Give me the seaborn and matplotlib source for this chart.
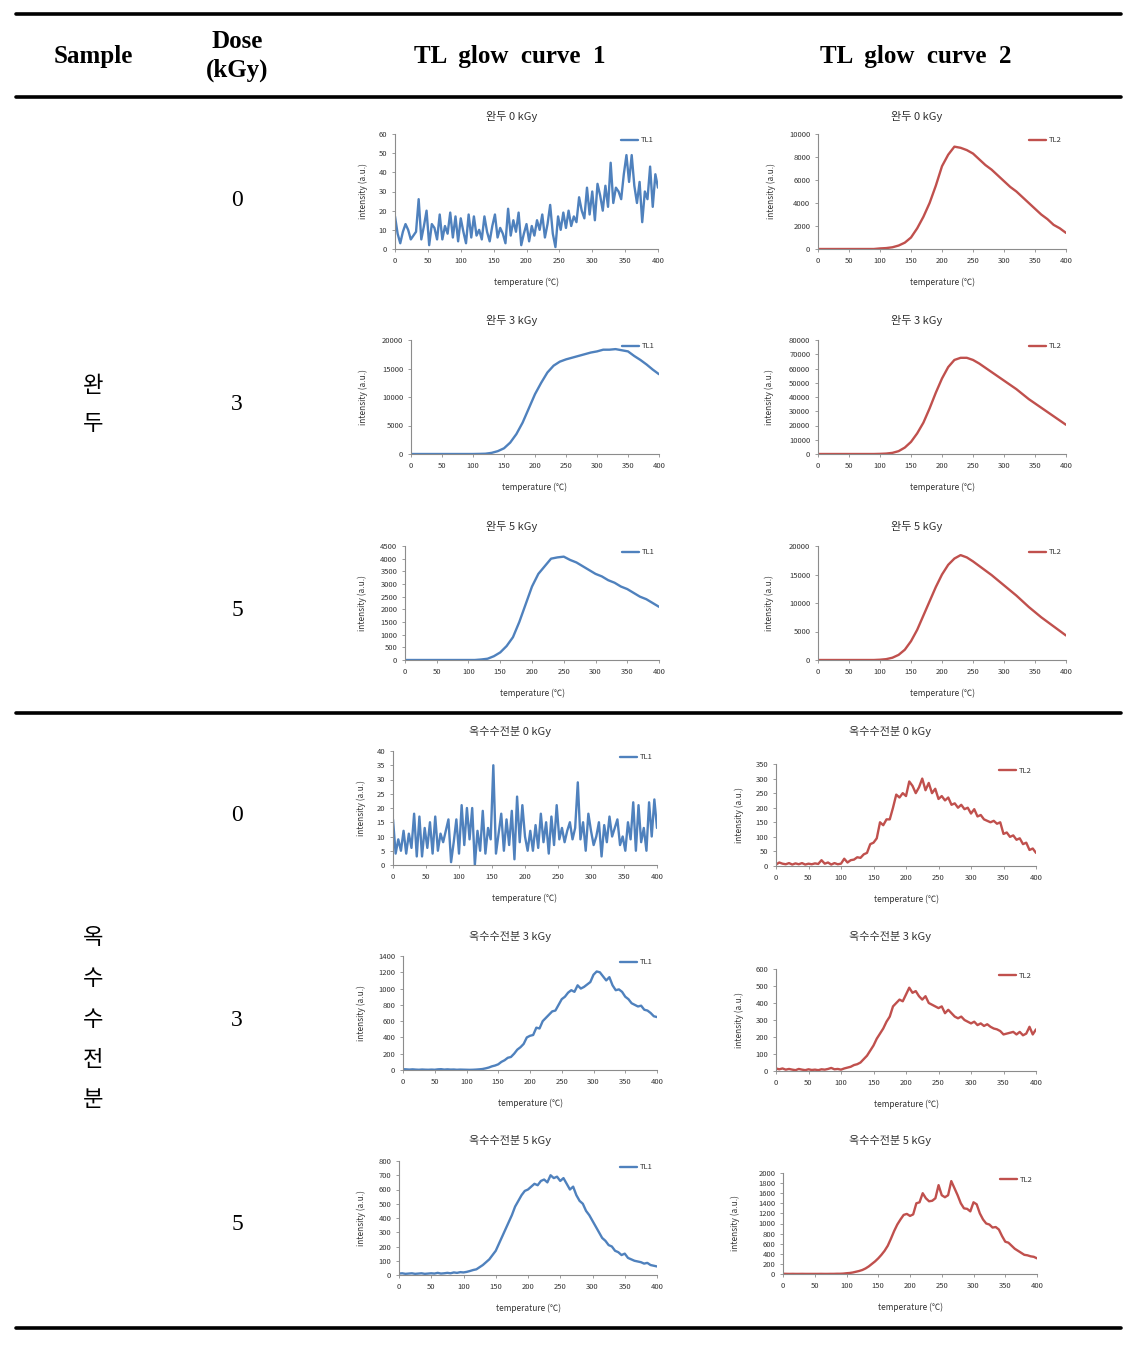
import matplotlib.pyplot as plt
import matplotlib.lines as mlines
import numpy as np
import seaborn as sns

W, H = 1133, 1351

# temperature grids (°C)
temp_4 = np.arange(0, 401, 4)
temp_5 = np.arange(0, 401, 5)
temp_10 = np.arange(0, 401, 10)

# 완두 0 kGy, TL1 (4 °C steps)
pea_0_tl1 = [
    17, 8, 3, 9, 13, 10, 5, 7, 9, 26,
    5, 12, 20, 2, 13, 11, 5, 18, 5, 12,
    8, 19, 6, 17, 4, 16, 9, 3, 18, 6,
    17, 7, 10, 5, 17, 9, 4, 12, 18, 6,
    11, 8, 3, 21, 7, 15, 9, 19, 2, 8,
    13, 4, 12, 7, 15, 10, 18, 6, 13, 23,
    8, 1, 17, 10, 19, 11, 20, 12, 17, 14,
    27, 20, 16, 32, 18, 30, 15, 34, 28, 20,
    33, 22, 45, 24, 32, 30, 26, 39, 49, 35,
    49, 33, 24, 35, 14, 30, 26, 43, 22, 39,
    32,
]
# 완두 0 kGy, TL2 (10 °C steps)
pea_0_tl2 = [
    0, 0, 0, 0, 0, 0, 0, 0, 0, 0,
    50, 80, 150, 300, 550, 1000, 1800, 2800, 4000, 5500,
    7200, 8200, 8900, 8800, 8600, 8300, 7800, 7300, 6900, 6400,
    5900, 5400, 5000, 4500, 4000, 3500, 3000, 2600, 2100, 1800,
    1400,
]
# 완두 3 kGy
pea_3_tl1 = [
    0, 0, 0, 0, 0, 0, 0, 0, 0, 0,
    0, 20, 50, 200, 500, 1000, 2000, 3500, 5500, 8000,
    10500, 12500, 14300, 15500, 16200, 16600, 16900, 17200, 17500, 17800,
    18000, 18300, 18300, 18400, 18200, 18000, 17200, 16500, 15700, 14800,
    14000,
]
pea_3_tl2 = [
    0, 0, 0, 0, 0, 0, 0, 0, 0, 0,
    100, 300, 800, 2000, 4500, 8500, 14500, 22000, 32000, 43000,
    53000, 61000, 66000, 67500, 67500, 66000, 63500, 60500, 57500, 54500,
    51500, 48500, 45500, 42000, 38500, 35500, 32500, 29500, 26500, 23500,
    20500,
]
# 완두 5 kGy
pea_5_tl1 = [
    0, 0, 0, 0, 0, 0, 0, 0, 0, 0,
    0, 0, 20, 50, 150, 300, 550, 900, 1500, 2200,
    2900, 3400, 3700, 4000, 4050, 4080, 3950, 3850, 3700, 3550,
    3400, 3300, 3150, 3050, 2900, 2800, 2650, 2500, 2400, 2250,
    2100,
]
pea_5_tl2 = [
    0, 0, 0, 0, 0, 0, 0, 0, 0, 0,
    50, 150, 400, 900, 1800, 3300, 5300, 7800, 10300, 12800,
    15000, 16700, 17800, 18400, 18000, 17300, 16500, 15700, 14900, 14000,
    13100, 12200, 11300, 10300, 9300, 8400, 7500, 6700, 5900, 5100,
    4300,
]
# 옥수수전분 0 kGy
corn_0_tl1 = [
    16, 4, 9, 5, 12, 4, 11, 6, 18, 3,
    17, 3, 13, 6, 15, 4, 17, 5, 11, 8,
    12, 16, 1, 8, 16, 4, 21, 7, 20, 9,
    20, 0, 12, 5, 19, 4, 13, 9, 35, 4,
    11, 18, 5, 16, 7, 19, 2, 24, 8, 21,
    10, 5, 12, 5, 14, 6, 18, 8, 15, 4,
    17, 7, 21, 9, 13, 8, 12, 15, 9, 13,
    29, 9, 15, 5, 18, 12, 7, 10, 15, 3,
    14, 8, 17, 10, 13, 16, 7, 10, 5, 15,
    9, 22, 5, 21, 8, 13, 5, 22, 10, 23,
    13,
]
corn_0_tl2 = [
    5, 12, 8, 6, 10, 5, 9, 6, 10, 5,
    8, 6, 9, 7, 20, 8, 12, 5, 10, 6,
    8, 25, 12, 20, 22, 30, 28, 40, 45, 75,
    80, 95, 150, 140, 160, 160, 200, 245, 235, 250,
    240, 290, 275, 250, 270, 300, 260, 285, 250, 265,
    230, 240, 225, 235, 210, 215, 200, 210, 195, 200,
    180, 195, 170, 175, 160, 155, 150, 155, 145, 150,
    110, 115, 100, 105, 90, 95, 75, 80, 55, 60,
    45,
]
# 옥수수전분 3 kGy
corn_3_tl1 = [
    10, 8, 5, 8, 5, 3, 6, 4, 3, 5,
    3, 8, 10, 5, 8, 5, 6, 3, 5, 4,
    3, 2, 3, 5, 8, 12, 20, 30, 45, 55,
    70, 100, 120, 150, 160, 200, 250, 280, 320, 400,
    420, 430, 520, 510, 600, 640, 680, 720, 730, 800,
    870, 900, 950, 980, 960, 1040, 1000, 1020, 1050, 1080,
    1170, 1210, 1200, 1150, 1100, 1140, 1040, 980, 990, 960,
    900, 870, 820, 800, 780, 790, 740, 730, 700, 660,
    650,
]
corn_3_tl2 = [
    15, 10, 15, 8, 12, 8, 5, 12, 8, 5,
    10, 6, 8, 5, 10, 8, 12, 18, 10, 12,
    8, 15, 20, 25, 35, 40, 50, 70, 90, 120,
    150, 190, 220, 250, 290, 320, 380, 400, 420, 410,
    450, 490, 460, 470, 440, 420, 440, 400, 390, 380,
    370, 380, 340, 360, 340, 320, 310, 320, 300, 290,
    280, 290, 270, 280, 265, 275, 260, 250, 245, 235,
    215, 220, 225, 230, 215, 230, 210, 220, 260, 215,
    245,
]
# 옥수수전분 5 kGy
corn_5_tl1 = [
    10, 12, 8, 10, 12, 8, 10, 12, 8, 10,
    12, 10, 15, 10, 12, 15, 12, 18, 15, 20,
    18, 22, 28, 35, 40, 55, 70, 90, 110, 140,
    170, 220, 270, 320, 370, 420, 480, 520, 560, 590,
    600, 620, 640, 630, 660, 670, 650, 700, 680, 690,
    660, 680, 640, 600, 620, 560, 520, 500, 450, 420,
    380, 340, 300, 260, 240, 210, 200, 170, 160, 140,
    150, 120, 110, 100, 95, 90, 80, 85, 70, 65,
    60,
]
corn_5_tl2 = [
    5, 3, 2, 3, 2, 2, 3, 2, 2, 2,
    2, 2, 3, 2, 2, 3, 3, 5, 5, 8,
    15, 20, 30, 45, 60, 80, 110, 150, 200, 250,
    310, 380, 460, 560, 700, 850, 980, 1080, 1170, 1190,
    1150, 1180, 1400, 1420, 1600, 1500, 1440, 1450, 1500, 1760,
    1560, 1520, 1560, 1840, 1700, 1560, 1400, 1300, 1290, 1240,
    1420, 1380, 1200, 1080, 1000, 980, 920, 930, 880, 750,
    640, 620, 560, 500, 460, 420, 380, 370, 350, 340,
    310,
]

samples = ["완두", "옥수수전분"]
doses = ["0", "3", "5"]
TL1_COLOR = "#4F81BD"
TL2_COLOR = "#C0504D"

sns.set_theme(style="white")
plt.rcParams["font.family"] = ["Noto Sans CJK KR", "DejaVu Sans"]

fig = plt.figure(figsize=(W / 100, H / 100), dpi=100)
fig.patch.set_facecolor("white")


def px_axes(left, top, right, bottom):
    return fig.add_axes([left / W, 1 - bottom / H, (right - left) / W, (bottom - top) / H])


# (title, temps, values, curve, ymax, ystep, box px, title centre px, ylabel x px)
panels = [
    ("완두 0 kGy", temp_4, pea_0_tl1, "TL1", 60, 10, (395, 134, 658, 249), (512, 116), 365),
    ("완두 0 kGy", temp_10, pea_0_tl2, "TL2", 10000, 2000, (818, 134, 1066, 249), (917, 116), 772),
    ("완두 3 kGy", temp_10, pea_3_tl1, "TL1", 20000, 5000, (411, 340, 659, 454), (512, 321), 364),
    ("완두 3 kGy", temp_10, pea_3_tl2, "TL2", 80000, 10000, (818, 340, 1066, 454), (917, 321), 771),
    ("완두 5 kGy", temp_10, pea_5_tl1, "TL1", 4500, 500, (405, 546, 659, 660), (512, 526), 364),
    ("완두 5 kGy", temp_10, pea_5_tl2, "TL2", 20000, 5000, (818, 546, 1066, 660), (917, 526), 771),
    ("옥수수전분 0 kGy", temp_4, corn_0_tl1, "TL1", 40, 5, (393, 751, 657, 865), (510, 731), 362),
    ("옥수수전분 0 kGy", temp_5, corn_0_tl2, "TL2", 350, 50, (776, 764, 1036, 866), (890, 731), 740),
    ("옥수수전분 3 kGy", temp_5, corn_3_tl1, "TL1", 1400, 200, (403, 956, 657, 1070), (510, 936), 362),
    ("옥수수전분 3 kGy", temp_5, corn_3_tl2, "TL2", 600, 100, (776, 969, 1036, 1071), (890, 936), 740),
    ("옥수수전분 5 kGy", temp_5, corn_5_tl1, "TL1", 800, 100, (399, 1161, 657, 1275), (510, 1141), 362),
    ("옥수수전분 5 kGy", temp_5, corn_5_tl2, "TL2", 2000, 200, (783, 1173, 1037, 1274), (890, 1141), 737),
]

for title, temps, values, curve, ymax, ystep, box, tpos, ylab_x in panels:
    left, top, right, bottom = box
    ax = px_axes(left, top, right, bottom)
    color = TL1_COLOR if curve == "TL1" else TL2_COLOR
    sns.lineplot(x=temps, y=values, ax=ax, color=color, linewidth=1.7, label=curve)

    ax.set_xlim(0, 400)
    ax.set_ylim(0, ymax)
    ax.set_xticks(np.arange(0, 401, 50))
    ax.set_yticks(np.arange(0, ymax + 1, ystep))
    ax.set_facecolor("none")
    for side in ["top", "right"]:
        ax.spines[side].set_visible(False)
    for side in ["left", "bottom"]:
        ax.spines[side].set_color("#8c8c8c")
        ax.spines[side].set_linewidth(0.8)
    ax.tick_params(axis="both", direction="out", length=2.5, width=0.6, color="#8c8c8c",
                   labelsize=5.5, labelcolor="#333333", pad=3)
    ax.tick_params(axis="x", bottom=True)
    ax.tick_params(axis="y", left=True)

    w = right - left
    h = bottom - top
    ax.set_xlabel("temperature (℃)", fontsize=6, color="#333333")
    ax.xaxis.set_label_coords(0.5, -29 / h)
    ax.set_ylabel("intensity (a.u.)", fontsize=6, color="#333333")
    ax.yaxis.set_label_coords((ylab_x + 3.5 - left) / w, 0.5)

    ax.legend(loc="upper right", bbox_to_anchor=(1.0, 1.02), frameon=False, fontsize=5.5,
              handlelength=2.2, handletextpad=0.3, borderaxespad=0.2,
              labelcolor="#333333")

    fig.text(tpos[0] / W, 1 - tpos[1] / H, title, ha="center", va="center",
             fontsize=8, color="#333333")

# table rules
for y, lw in [(14, 2.6), (97, 2.6), (713, 2.6), (1328, 2.6)]:
    fig.add_artist(mlines.Line2D([16 / W, 1121 / W], [1 - y / H, 1 - y / H],
                                 color="black", linewidth=lw))

# header
header_font = dict(family=["Liberation Serif", "DejaVu Serif"], weight="bold",
                   fontsize=18, ha="center", va="center", color="black")
fig.text(93 / W, 1 - 57 / H, "Sample", **header_font)
fig.text(237 / W, 1 - 56 / H, "Dose\n(kGy)", linespacing=1.3, **header_font)
fig.text(510 / W, 1 - 57 / H, "TL  glow  curve  1", **header_font)
fig.text(916 / W, 1 - 57 / H, "TL  glow  curve  2", **header_font)

# sample names (vertical) and doses
name_rows = [(samples[0], 385, 38), (samples[1], 938, 40.5)]
for name, y0, step in name_rows:
    for i, ch in enumerate(name):
        fig.text(93 / W, 1 - (y0 + i * step) / H, ch, ha="center", va="center",
                 fontsize=16, family=["Noto Sans CJK KR"], color="black")

dose_y = [200, 405, 611, 815, 1020, 1225]
for i, y in enumerate(dose_y):
    fig.text(237 / W, 1 - y / H, doses[i % 3], ha="center", va="center",
             fontsize=17, family=["Liberation Serif", "DejaVu Serif"], color="black")

plt.savefig("out.png", dpi=100)
plt.close()
